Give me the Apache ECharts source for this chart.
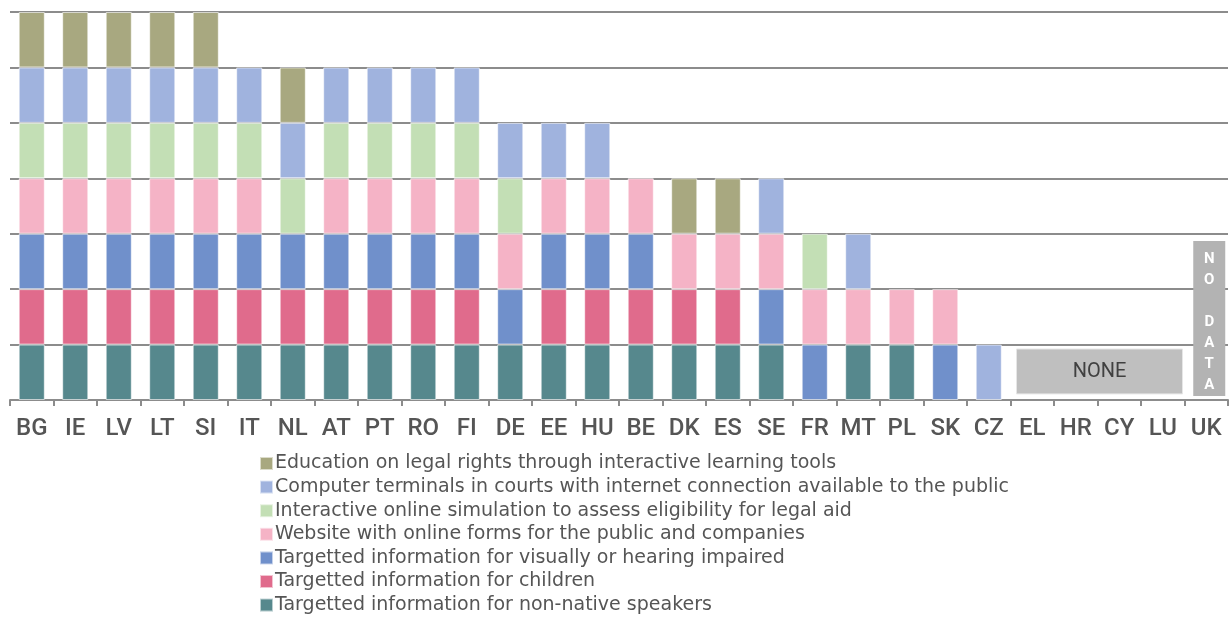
<!DOCTYPE html>
<html><head><meta charset="utf-8">
<script src="https://cdn.jsdelivr.net/npm/echarts@6/dist/echarts.min.js"></script>
<style>html,body{margin:0;padding:0;background:#fff}#c{width:1229px;height:617px}</style>
</head><body><div id="c"></div>
<script>
const categories = ['BG','IE','LV','LT','SI','IT','NL','AT','PT','RO','FI','DE','EE','HU','BE','DK','ES','SE','FR','MT','PL','SK','CZ','EL','HR','CY','LU','UK'];
const nonNative  = [1,1,1,1,1,1,1,1,1,1,1,1,1,1,1,1,1,1,0,1,1,0,0,0,0,0,0,0];
const children   = [1,1,1,1,1,1,1,1,1,1,1,0,1,1,1,1,1,0,0,0,0,0,0,0,0,0,0,0];
const visual     = [1,1,1,1,1,1,1,1,1,1,1,1,1,1,1,0,0,1,1,0,0,1,0,0,0,0,0,0];
const website    = [1,1,1,1,1,1,0,1,1,1,1,1,1,1,1,1,1,1,1,1,1,1,0,0,0,0,0,0];
const simulation = [1,1,1,1,1,1,1,1,1,1,1,1,0,0,0,0,0,0,1,0,0,0,0,0,0,0,0,0];
const terminals  = [1,1,1,1,1,1,1,1,1,1,1,1,1,1,0,0,0,1,0,1,0,0,1,0,0,0,0,0];
const education  = [1,1,1,1,1,0,1,0,0,0,0,0,0,0,0,1,1,0,0,0,0,0,0,0,0,0,0,0];
const noneCountries = ['EL','HR','CY','LU'];
const noDataCountries = ['UK'];
const noneLabel = 'NONE';
const noDataLabel = 'N\nO\n\nD\nA\nT\nA';
const seriesNames = {
  education: 'Education on legal rights through interactive learning tools',
  terminals: 'Computer terminals in courts with internet connection available to the public',
  simulation: 'Interactive online simulation to assess eligibility for legal aid',
  website: 'Website with online forms for the public and companies',
  visual: 'Targetted information for visually or hearing impaired',
  children: 'Targetted information for children',
  nonNative: 'Targetted information for non-native speakers'
};
const colors = {
  education: '#a8a880', terminals: '#a0b3de', simulation: '#c3dfb5', website: '#f5b3c6',
  visual: '#7090cb', children: '#e06b8c', nonNative: '#56888d'
};
const stackOrder = [['nonNative',nonNative],['children',children],['visual',visual],['website',website],['simulation',simulation],['terminals',terminals],['education',education]];

const chart = echarts.init(document.getElementById('c'), null, {renderer:'canvas'});
const FONT = 'Roboto';
const LFONT = 'DejaVu Sans';
const barSeries = stackOrder.map(([k, arr]) => ({
  name: seriesNames[k], type: 'bar', stack: 'total', barWidth: '60%',
  data: arr.map(v => v === 0 ? null : v),
  itemStyle: { color: colors[k], borderColor: 'rgba(255,255,255,0.6)', borderWidth: 1 },
  emphasis: { disabled: true }, z: 2
}));

const boxSeries = {
  type: 'custom', silent: true, z: 3,
  data: [
    [categories.indexOf(noneCountries[0]), categories.indexOf(noneCountries[noneCountries.length-1]), 0],
    [categories.indexOf(noDataCountries[0]), categories.indexOf(noDataCountries[0]), 1]
  ],
  renderItem: function (params, api) {
    const i0 = api.value(0), i1 = api.value(1), kind = api.value(2);
    const bw = api.size([1, 0])[0];
    if (kind === 0) {
      const pLow = api.coord([i0, 0.11]);
      const pHigh = api.coord([i1, 0.92]);
      const x0 = pLow[0] - bw / 2 + 6, x1 = pHigh[0] + bw / 2 - 2;
      return { type: 'group', children: [
        { type: 'rect', shape: { x: x0, y: pHigh[1], width: x1 - x0, height: pLow[1] - pHigh[1] },
          style: { fill: '#bfbfbf', stroke: '#e6e6e6', lineWidth: 1 } },
        { type: 'text', style: { text: noneLabel, x: (x0 + x1) / 2, y: (pLow[1] + pHigh[1]) / 2 + 1,
          align: 'center', verticalAlign: 'middle', fontFamily: FONT, fontSize: 20, fill: '#404040' } }
      ]};
    } else {
      const pLow = api.coord([i0, 0.07]);
      const pHigh = api.coord([i0, 2.87]);
      const cx = pLow[0] + 3, w = 32;
      return { type: 'group', children: [
        { type: 'rect', shape: { x: cx - w / 2, y: pHigh[1], width: w, height: pLow[1] - pHigh[1] },
          style: { fill: '#b3b3b3' } },
        { type: 'text', style: { text: noDataLabel, x: cx, y: (pLow[1] + pHigh[1]) / 2 + 4,
          align: 'center', verticalAlign: 'middle', fontFamily: FONT, fontWeight: 'bold',
          fontSize: 15, lineHeight: 21, fill: '#ffffff' } }
      ]};
    }
  }
};

chart.setOption({
  animation: false,
  textStyle: { fontFamily: FONT },
  grid: { left: 10, right: 1, top: 12, bottom: 217, containLabel: false },
  legend: {
    orient: 'vertical', left: 254, top: 449, height: 170, itemGap: 4.6, itemWidth: 13, itemHeight: 13,
    icon: 'rect', selectedMode: false,
    data: ['education','terminals','simulation','website','visual','children','nonNative'].map(k => seriesNames[k]),
    textStyle: { fontFamily: LFONT, fontSize: 19, color: '#555555', padding: [0,0,0,-3] }
  },
  xAxis: {
    type: 'category', data: categories,
    axisLine: { lineStyle: { color: '#8c8c8c', width: 2 } },
    axisTick: { show: true, alignWithLabel: false, length: 6, lineStyle: { color: '#8c8c8c', width: 2 } },
    axisLabel: { fontFamily: FONT, fontWeight: 500, fontSize: 24, color: '#555555', margin: 17, interval: 0 }
  },
  yAxis: {
    type: 'value', min: 0, max: 7, interval: 1,
    axisLabel: { show: false }, axisLine: { show: false }, axisTick: { show: false },
    splitLine: { lineStyle: { color: '#8c8c8c', width: 2 } }
  },
  series: barSeries.concat([boxSeries])
});
</script></body></html>
